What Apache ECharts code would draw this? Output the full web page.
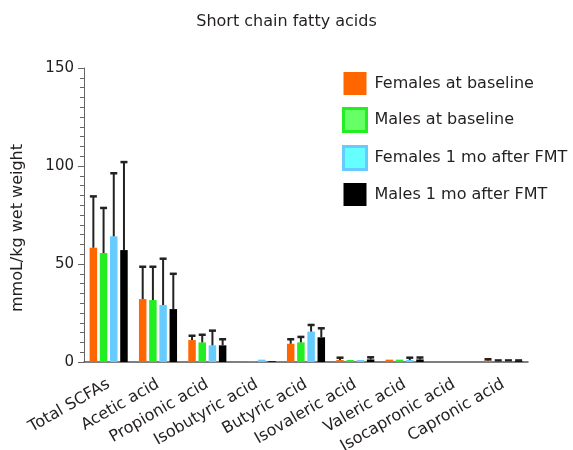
<!DOCTYPE html>
<html>
<head>
<meta charset="utf-8">
<script src="https://cdn.jsdelivr.net/npm/echarts@6/dist/echarts.min.js"></script>
<style>
  html, body { margin: 0; padding: 0; background: #fff; }
  #chart { width: 573px; height: 450px; }
</style>
</head>
<body>
<div id="chart"></div>
<script>
var categories = ['Total SCFAs', 'Acetic acid', 'Propionic acid', 'Isobutyric acid', 'Butyric acid',
    'Isovaleric acid', 'Valeric acid', 'Isocapronic acid', 'Capronic acid'];
var seriesNames = ['Females at baseline', 'Males at baseline', 'Females 1 mo after FMT', 'Males 1 mo after FMT'];

// means
var femBase  = [58.3, 32.1, 11.2, 0.3, 9.3, 1.0, 1.2, 0, 0.8];
var maleBase = [55.6, 31.6, 10.0, 0.3, 10.0, 1.0, 1.2, 0, 0.5];
var femPost  = [64.1, 29.1, 8.5, 1.2, 15.5, 1.0, 1.0, 0, 0.5];
var malePost = [57.1, 27.0, 8.5, 0.4, 12.6, 1.3, 1.3, 0, 0.5];

// upper error (SD)
var femBaseErr  = [26.2, 16.5, 2.2, 0, 2.3, 1.2, 0, 0, 0.6];
var maleBaseErr = [23.0, 17.0, 3.9, 0, 2.8, 0, 0, 0, 0.3];
var femPostErr  = [32.2, 23.6, 7.5, 0, 3.4, 0, 1.2, 0, 0.3];
var malePostErr = [44.9, 18.0, 3.1, 0, 4.6, 1.1, 1.0, 0, 0.3];

var means = [femBase, maleBase, femPost, malePost];
var errs = [femBaseErr, maleBaseErr, femPostErr, malePostErr];
var colors = ['#ff6600', '#22ee22', '#66ccff', '#000000'];

var barW = 7.5;
var barGapPx = 2.7;
var font = 'DejaVu Sans';
var textColor = '#231f20';

var series = [];
for (var s = 0; s < 4; s++) {
    series.push({
        name: seriesNames[s],
        type: 'bar',
        barWidth: barW,
        barGap: (barGapPx / barW * 100) + '%',
        itemStyle: { color: colors[s] },
        data: means[s],
        z: 2
    });
}

// error bars (upper only)
for (var s = 0; s < 4; s++) {
    var errData = [];
    for (var i = 0; i < categories.length; i++) {
        errData.push([i, means[s][i], means[s][i] + errs[s][i]]);
    }
    (function (idx) {
        series.push({
            name: 'err' + idx,
            type: 'custom',
            z: 3,
            renderItem: function (params, api) {
                if (api.value(2) - api.value(1) <= 0) return null;
                var base = api.coord([api.value(0), api.value(1)]);
                var top = api.coord([api.value(0), api.value(2)]);
                var total = 4 * barW + 3 * barGapPx;
                var x = base[0] - total / 2 + barW / 2 + idx * (barW + barGapPx);
                var capHalf = 3.5;
                return {
                    type: 'group',
                    children: [{
                        type: 'line',
                        shape: { x1: x, y1: base[1], x2: x, y2: top[1] },
                        style: { stroke: '#222', lineWidth: 2 }
                    }, {
                        type: 'line',
                        shape: { x1: x - capHalf, y1: top[1], x2: x + capHalf, y2: top[1] },
                        style: { stroke: '#222', lineWidth: 2.5 }
                    }]
                };
            },
            data: errData
        });
    })(s);
}

var option = {
    animation: false,
    backgroundColor: '#fff',
    title: {
        text: 'Short chain fatty acids',
        left: 'center',
        top: 9,
        textStyle: { fontFamily: font, fontSize: 16, fontWeight: 'normal', color: textColor }
    },
    legend: {
        orient: 'vertical',
        left: 342,
        top: 72,
        padding: 0,
        itemWidth: 23,
        itemHeight: 23,
        itemGap: 12,
        icon: 'rect',
        textStyle: { fontFamily: font, fontSize: 16, color: textColor, padding: [0, 0, 0, 3] },
        data: [
            { name: seriesNames[0], itemStyle: { color: '#ff6600', borderWidth: 0 } },
            { name: seriesNames[1], itemStyle: { color: '#66ff66', borderColor: '#22ee22', borderWidth: 3 } },
            { name: seriesNames[2], itemStyle: { color: '#66ffff', borderColor: '#66ccff', borderWidth: 3 } },
            { name: seriesNames[3], itemStyle: { color: '#000000', borderWidth: 0 } }
        ]
    },
    grid: { left: 84, right: 45, top: 68, bottom: 88, containLabel: false, outerBoundsMode: 'none' },
    xAxis: {
        type: 'category',
        data: categories,
        axisLine: { lineStyle: { color: '#555', width: 1.5 } },
        axisTick: { alignWithLabel: true, length: 6, lineStyle: { color: '#555' } },
        axisLabel: {
            rotate: 30, interval: 0, margin: 21,
            fontFamily: font, fontSize: 16, color: textColor
        }
    },
    yAxis: {
        type: 'value',
        min: 0, max: 150, interval: 50,
        name: 'mmoL/kg wet weight',
        nameLocation: 'middle',
        nameGap: 58,
        nameTextStyle: { fontFamily: font, fontSize: 16, color: textColor, padding: [0, 26, 0, 0] },
        axisLine: { show: true, lineStyle: { color: '#666' } },
        axisTick: { show: true, length: 6, lineStyle: { color: '#666' } },
        minorTick: { show: true, splitNumber: 10, length: 4, lineStyle: { color: '#666' } },
        splitLine: { show: false },
        axisLabel: { fontFamily: font, fontSize: 15, color: textColor, margin: 10 }
    },
    series: series
};

var chart = echarts.init(document.getElementById('chart'));
chart.setOption(option);
</script>
</body>
</html>
